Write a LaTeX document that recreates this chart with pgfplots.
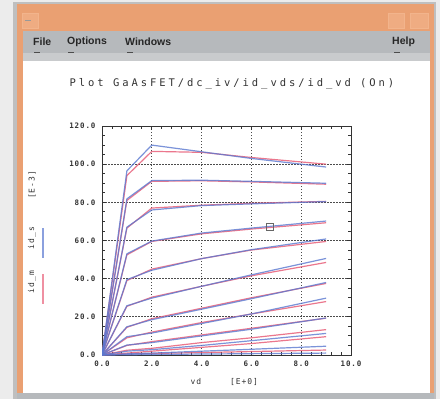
\documentclass[border=0pt]{standalone}
\usepackage{pgfplots}
\pgfplotsset{compat=1.18}
\usepackage{pgfplotstable}
\usepackage{fontspec}
\setmainfont{DejaVu Sans}
\newfontfamily\menufont{Liberation Sans}
\newfontfamily\titlefont[LetterSpace=28]{DejaVu Sans Mono}
\newfontfamily\tickfont[LetterSpace=12]{DejaVu Sans Mono}

\definecolor{winorange}{HTML}{EAA072}
\definecolor{winorangeL}{HTML}{F2B48C}
\definecolor{menugrey}{HTML}{B6B9BC}
\definecolor{sepgrey}{HTML}{C9CBCD}
\definecolor{outergrey}{HTML}{ECECEC}
\definecolor{simblue}{HTML}{5A78D0}
\definecolor{measred}{HTML}{E8607A}

% simulated id_s (blue)
\pgfplotstableread{
x c1 c2 c3 c4 c5 c6 c7 c8 c9 c10 c11 c12
0 0 0 0 0 0 0 0 0 0 0 0 0
1 96.5 81.8 67 53 39.5 25.8 14.8 9.6 5.2 2 0.6 0.1
2 110 91.4 76 59.7 44.4 29.8 18.5 11.5 6.5 2.8 1 0.3
4 106.5 91.6 78.3 63.9 50.5 36 24 16.5 10 5 2 0.5
6 103 91 79.2 66.5 55.2 42 29.5 21.5 13.5 7.5 3 0.7
9 98.5 90 80.4 70.2 60.8 50.6 38 29.8 19.4 11.3 4.6 1
}\simtable

% measured id_m (red)
\pgfplotstableread{
x c1 c2 c3 c4 c5 c6 c7 c8 c9 c10 c11 c12
0 0 0 0 0 0 0 0 0 0 0 0 0
1 94 81 66.5 52.5 39 25.5 14.5 9 5 2.5 1 0.5
2 106.7 91 77 59.5 45 30.3 19 12 7 3.5 2 0.8
4 106.2 91.3 78.5 63.5 50.5 36 24.5 17 10.5 6.5 4 1.3
6 103.5 90.7 79.5 66 55 41.5 30 21.5 14 9 6 1.8
9 100 89.5 80.5 69.3 59.5 48.5 37.5 28 19.3 13.3 9.6 2.6
}\meastable

\begin{document}
\begin{tikzpicture}
\useasboundingbox (0pt,0pt) rectangle (440pt,-399pt);
% window chrome
\fill[outergrey] (0pt,0pt) rectangle (440pt,-399pt);
\fill[black!25] (13pt,-2pt) rectangle (436pt,-399pt);
\fill[winorange] (17pt,-4pt) rectangle (434pt,-399pt);
\fill[white] (23pt,-60pt) rectangle (430pt,-393pt);
\fill[menugrey] (23pt,-31pt) rectangle (430pt,-53pt);
\fill[sepgrey] (23pt,-53pt) rectangle (430pt,-61pt);
\fill[menugrey] (17pt,-393pt) rectangle (434pt,-399pt);
\draw[winorangeL, fill=winorangeL!60!winorange] (22pt,-13pt) rectangle (38pt,-28pt);
\draw[black!40, line width=1pt] (25pt,-20pt) -- (31pt,-20pt);
\draw[winorangeL, fill=winorangeL!60!winorange] (388pt,-13pt) rectangle (404pt,-28pt);
\draw[winorangeL, fill=winorangeL!60!winorange] (410pt,-13pt) rectangle (428pt,-28pt);
% menu
\begin{scope}[every node/.style={anchor=west, inner sep=0pt, font=\menufont\bfseries\fontsize{10.5}{12}\selectfont, text=black!85}]
\node at (33pt,-42pt) {File};
\node at (67pt,-42pt) {Options};
\node at (125pt,-42pt) {Windows};
\node at (392pt,-42pt) {Help};
\end{scope}
\foreach \a in {34,68,127,394}{\draw[black!70, line width=1pt] (\a pt,-52pt) -- (\a pt+6pt,-52pt);}
% title
\node[font=\titlefont\fontsize{10.5}{12}\selectfont, text=black!80] at (232pt,-84pt) {Plot GaAsFET/dc\_iv/id\_vds/id\_vd (On)};
% y label
\begin{scope}[every node/.style={rotate=90, font=\tickfont\fontsize{8}{9}\selectfont, text=black!80}]
\node at (32pt,-185pt) {[E-3]};
\node at (32pt,-238pt) {id\_s};
\node at (32pt,-282pt) {id\_m};
\end{scope}
\draw[simblue!70, line width=1.2pt] (43pt,-228pt) -- (43pt,-258pt);
\draw[measred!70, line width=1.2pt] (43pt,-274pt) -- (43pt,-304pt);
% x label
\node[font=\tickfont\fontsize{8}{9}\selectfont, text=black!80] at (196pt,-382pt) {vd};
\node[font=\tickfont\fontsize{8}{9}\selectfont, text=black!80] at (244pt,-382pt) {[E+0]};

\begin{axis}[
  at={(102pt,-355pt)}, anchor=south west,
  scale only axis, width=249pt, height=229pt,
  xmin=0, xmax=10, ymin=0, ymax=120,
  xtick={0,2,4,6,8,10}, xticklabels={0.0,2.0,4.0,6.0,8.0,10.0},
  ytick={0,20,40,60,80,100,120}, yticklabels={0.0,20.0,40.0,60.0,80.0,100.0,120.0},
  minor x tick num=4, minor y tick num=3,
  major tick length=4pt, minor tick length=3pt,
  tick style={black!80, line width=0.9pt},
  axis line style={black!80, line width=0.9pt},
  grid=major,
  major grid style={black!70, dash pattern=on 1.5pt off 1.5pt, line width=0.9pt},
  ticklabel style={font=\tickfont\bfseries\fontsize{7.5}{8}\selectfont, text=black!80},
  xticklabel style={yshift=-2pt},
  yticklabel style={xshift=-3pt},
]
\pgfplotsinvokeforeach{1,...,12}{
  \addplot[measred, line width=1.2pt, opacity=0.85] table[x=x,y=c#1]{\meastable};
}
\pgfplotsinvokeforeach{1,...,12}{
  \addplot[simblue, line width=1.2pt, opacity=0.8] table[x=x,y=c#1]{\simtable};
}
\addplot[only marks, mark=square, mark size=3.5pt, mark options={draw=black!60, line width=1pt}] coordinates {(6.75,67)};
\end{axis}
\end{tikzpicture}
\end{document}
